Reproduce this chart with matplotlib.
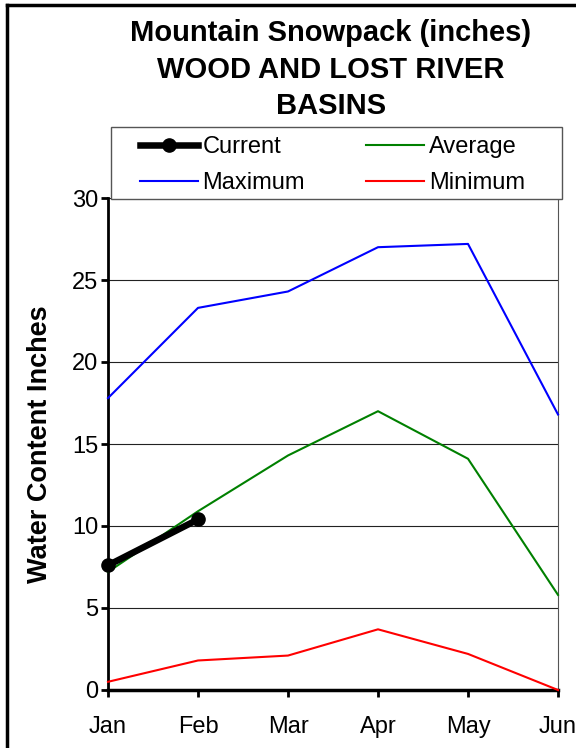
import matplotlib.pyplot as plt
from matplotlib.lines import Line2D
from matplotlib.patches import Rectangle

months = ['Jan', 'Feb', 'Mar', 'Apr', 'May', 'Jun']
current = [7.6, 10.4]
average = [7.2, 10.9, 14.3, 17.0, 14.1, 5.8]
maximum = [17.8, 23.3, 24.3, 27.0, 27.2, 16.8]
minimum = [0.5, 1.8, 2.1, 3.7, 2.2, 0.0]
yticks = [0, 5, 10, 15, 20, 25, 30]

plt.rcParams['font.family'] = ['Liberation Sans', 'DejaVu Sans']

W, H = 576, 748
fig = plt.figure(figsize=(W / 100, H / 100), dpi=100)
ax = fig.add_axes([108 / W, 1 - 690 / H, 450 / W, 492 / H])

x = list(range(len(months)))
ax.plot(x, maximum, color='#0000ff', lw=1.5, label='Maximum', clip_on=False, zorder=3)
ax.plot(x, average, color='#008000', lw=1.5, label='Average', clip_on=False, zorder=4)
ax.plot(x, minimum, color='#ff0000', lw=1.5, label='Minimum', clip_on=False, zorder=3)
ax.plot(x[:len(current)], current, color='black', lw=4.7, marker='o', markersize=9.5,
        label='Current', clip_on=False, zorder=5)

ax.set_xlim(0, len(months) - 1)
ax.set_ylim(0, 30)
ax.set_xticks(x)
ax.set_xticklabels(months, fontsize=17)
ax.set_yticks(yticks)
ax.set_yticklabels([str(v) for v in yticks], fontsize=17)
ax.yaxis.grid(True, color='#222222', lw=0.8)
ax.set_axisbelow(True)
ax.tick_params(axis='both', direction='out', length=5, width=2, color='black')
ax.tick_params(axis='y', pad=2)
ax.tick_params(axis='x', pad=14)
ax.spines['left'].set_linewidth(2)
ax.spines['bottom'].set_linewidth(2.5)
ax.spines['right'].set_color('#555555')
ax.spines['right'].set_linewidth(0.8)
ax.spines['top'].set_visible(False)
ax.set_ylabel('Water Content Inches', fontsize=19.5, fontweight='bold', labelpad=14)

for yy, line in zip([33, 70, 106], ['Mountain Snowpack (inches)', 'WOOD AND LOST RIVER', 'BASINS']):
    fig.text(331 / W, 1 - yy / H, line, ha='center', va='center',
             fontsize=21, fontweight='bold')

# legend box drawn separately, entries placed inside it
fig.add_artist(Rectangle((111 / W, 1 - 199 / H), 451 / W, 72 / H, transform=fig.transFigure,
                         facecolor='white', edgecolor='#555555', lw=1.0, zorder=6))

# column-wise fill: Current/Maximum left, Average/Minimum right
handles = [
    Line2D([], [], color='black', lw=4.7, marker='o', markersize=9.5),
    Line2D([], [], color='#0000ff', lw=1.5),
    Line2D([], [], color='#008000', lw=1.5),
    Line2D([], [], color='#ff0000', lw=1.5),
]
labels = ['Current', 'Maximum', 'Average', 'Minimum']
leg = fig.legend(handles, labels, ncol=2, loc='upper left',
                 bbox_to_anchor=(140 / W, 1 - 136 / H), borderaxespad=0, borderpad=0,
                 fontsize=17, frameon=False, handlelength=2.45, handletextpad=0.2,
                 columnspacing=2.6, labelspacing=0.6)
leg.set_zorder(7)

fig.add_artist(Line2D([7 / W, 7 / W], [0, 1 - 5 / H], color='black', lw=2.5,
                      transform=fig.transFigure))
fig.add_artist(Line2D([7 / W, 1], [1 - 5 / H, 1 - 5 / H], color='black', lw=2.5,
                      transform=fig.transFigure))

fig.savefig('out.png', dpi=100)
